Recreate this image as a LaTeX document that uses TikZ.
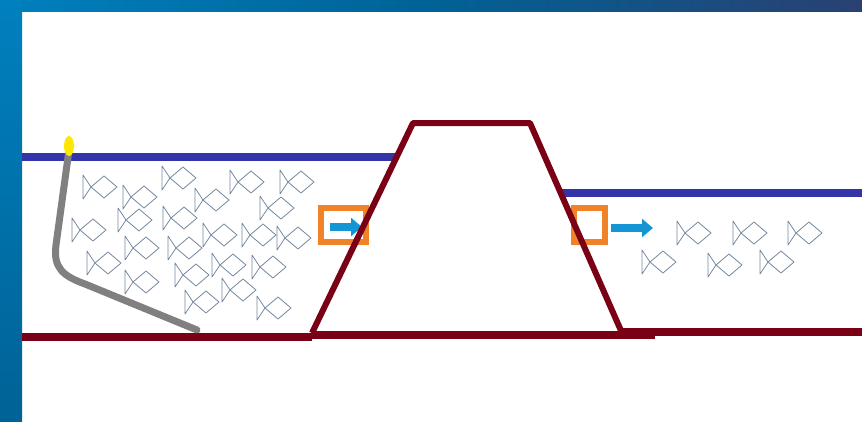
\documentclass[tikz,border=0pt]{standalone}
\usetikzlibrary{arrows.meta,positioning}

\definecolor{barblue}{RGB}{0,128,190}
\definecolor{bardark}{RGB}{42,64,114}
\definecolor{barmid}{RGB}{0,98,150}
\definecolor{waterline}{RGB}{52,52,170}
\definecolor{damred}{RGB}{122,0,22}
\definecolor{hosegray}{RGB}{128,128,128}
\definecolor{gatebox}{RGB}{240,130,40}
\definecolor{flowblue}{RGB}{20,150,212}
\definecolor{fishline}{RGB}{115,135,158}

\begin{document}
\begin{tikzpicture}[x=1pt,y=-1pt,
            water/.style={draw=waterline,line width=8pt},
            dam/.style={draw=damred,line width=6pt,line join=round},
            bed/.style={draw=damred,line width=8pt},
            hose/.style={draw=hosegray,line width=7pt,line cap=round},
            gate/.style={draw=gatebox,line width=6pt},
            flow/.style={draw=flowblue,line width=8pt,
              -{Triangle[length=11pt,width=18pt]}},
            fish/.pic={
              \draw[fishline,line width=0.8pt,line join=round]
                (0,-12) -- (0,12) -- (8,0) -- cycle
                (8,0) -- (21,-11) -- (34,0) -- (21,11) -- cycle;
            }]

  \useasboundingbox (0,0) rectangle (862,421);

  % frame bars
  \shade[left color=barblue,right color=bardark,middle color=barmid]
    (0,0) rectangle (862,11);
  \shade[top color=barblue,bottom color=barmid] (0,0) rectangle (22,421);

  % dam corners
  \coordinate (dam bl) at (312,333);
  \coordinate (dam tl) at (413,123);
  \coordinate (dam tr) at (530,123);
  \coordinate (dam br) at (622,333);

  % water levels
  \draw[water] (22,157) -- (397,157);
  \draw[water] (561,193) -- (862,193);

  % gates and flow
  \draw[gate] (321,208) rectangle (366,242);
  \draw[gate] (574,208) rectangle (605,242);
  \draw[flow] (330,227) -- (362,227);
  \draw[flow] (611,228) -- (653,228);

  % dam and river bed
  \draw[bed] (22,337) -- (312,337);
  \draw[bed] (312,335) -- (655,335);
  \draw[bed] (622,332) -- (862,332);
  \draw[dam] (dam bl) -- (dam tl) -- (dam tr) -- (dam br);

  % fish upstream and downstream
  \foreach \x/\y in {83/187,123/197,162/178,195/200,230/182,280/182,
      260/208,72/230,118/220,163/218,203/235,242/235,277/238,87/263,
      125/248,168/248,125/282,175/275,212/265,252/267,222/290,185/302,
      257/308,677/233,733/233,788/233,642/262,708/265,760/262}
    \pic at (\x,\y) {fish};

  % siphon hose
  \draw[hose] (69,150) -- (56,245) .. controls (53,268) and (63,276) .. (85,284) -- (197,330);
  \fill[yellow!90!orange] (69,146) ellipse [x radius=5,y radius=10];

\end{tikzpicture}
\end{document}
